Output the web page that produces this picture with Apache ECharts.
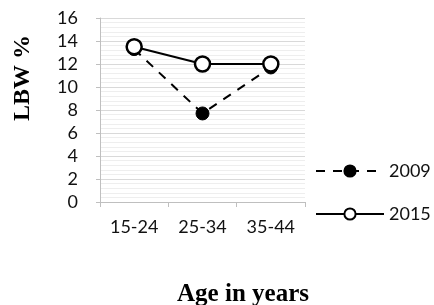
<!DOCTYPE html>
<html>
<head>
<meta charset="utf-8">
<script src="https://cdn.jsdelivr.net/npm/echarts@6/dist/echarts.min.js"></script>
<style>
html, body { margin: 0; padding: 0; background: #fff; }
#chart { width: 434px; height: 305px; }
</style>
</head>
<body>
<div id="chart"></div>
<script>
var ageGroups = ['15-24', '25-34', '35-44'];
var lbw2009 = [13.3, 7.7, 11.7];
var lbw2015 = [13.5, 12.0, 12.0];
var yMin = 0, yMax = 16, yStep = 2;

var myChart = echarts.init(document.getElementById('chart'));
var labelFont = 'Lato, "Liberation Sans", sans-serif';

var option = {
    animation: false,
    grid: { left: 100, right: 129, top: 18, bottom: 103 },
    legend: {
        orient: 'vertical',
        left: 310,
        top: 157,
        itemWidth: 68,
        itemHeight: 14,
        itemGap: 25,
        textStyle: { fontFamily: labelFont, fontSize: 18, color: '#111' },
        data: ['2009', '2015']
    },
    xAxis: {
        type: 'category',
        data: ageGroups,
        boundaryGap: true,
        axisLine: { lineStyle: { color: '#bfbfbf', width: 1 } },
        axisTick: { show: true, alignWithLabel: false, length: 5, lineStyle: { color: '#bfbfbf' } },
        axisLabel: { fontFamily: labelFont, fontSize: 18, color: '#111', margin: 16 },
        splitLine: { show: false }
    },
    yAxis: {
        type: 'value',
        min: yMin,
        max: yMax,
        interval: yStep,
        axisLine: { show: true, lineStyle: { color: '#bfbfbf', width: 1 } },
        axisTick: { show: true, length: 4, lineStyle: { color: '#bfbfbf' } },
        axisLabel: { fontFamily: labelFont, fontSize: 18, color: '#111', margin: 22 },
        splitLine: { show: true, lineStyle: { color: '#d9d9d9', width: 1 } },
        minorTick: { show: false, splitNumber: 5 },
        minorSplitLine: { show: true, lineStyle: { color: '#eeeeee', width: 1 } }
    },
    graphic: [
        {
            type: 'text',
            x: 23, y: 78,
            rotation: Math.PI / 2,
            style: {
                text: 'LBW %',
                font: 'bold 24px "Liberation Serif", "Times New Roman", serif',
                fill: '#000',
                align: 'center',
                verticalAlign: 'middle'
            }
        },
        {
            type: 'text',
            x: 243, y: 295,
            style: {
                text: 'Age in years',
                font: 'bold 25px "Liberation Serif", "Times New Roman", serif',
                fill: '#000',
                align: 'center',
                verticalAlign: 'middle'
            }
        }
    ],
    series: [
        {
            name: '2009',
            type: 'line',
            data: lbw2009,
            symbol: 'circle',
            symbolSize: 13,
            itemStyle: { color: '#000', borderColor: '#000', borderWidth: 1 },
            lineStyle: { color: '#000', width: 2, type: [9, 8] }
        },
        {
            name: '2015',
            type: 'line',
            data: lbw2015,
            symbol: 'circle',
            symbolSize: 15,
            itemStyle: { color: '#fff', borderColor: '#000', borderWidth: 2.5 },
            lineStyle: { color: '#000', width: 2, type: 'solid' }
        }
    ]
};

myChart.setOption(option);
</script>
</body>
</html>
